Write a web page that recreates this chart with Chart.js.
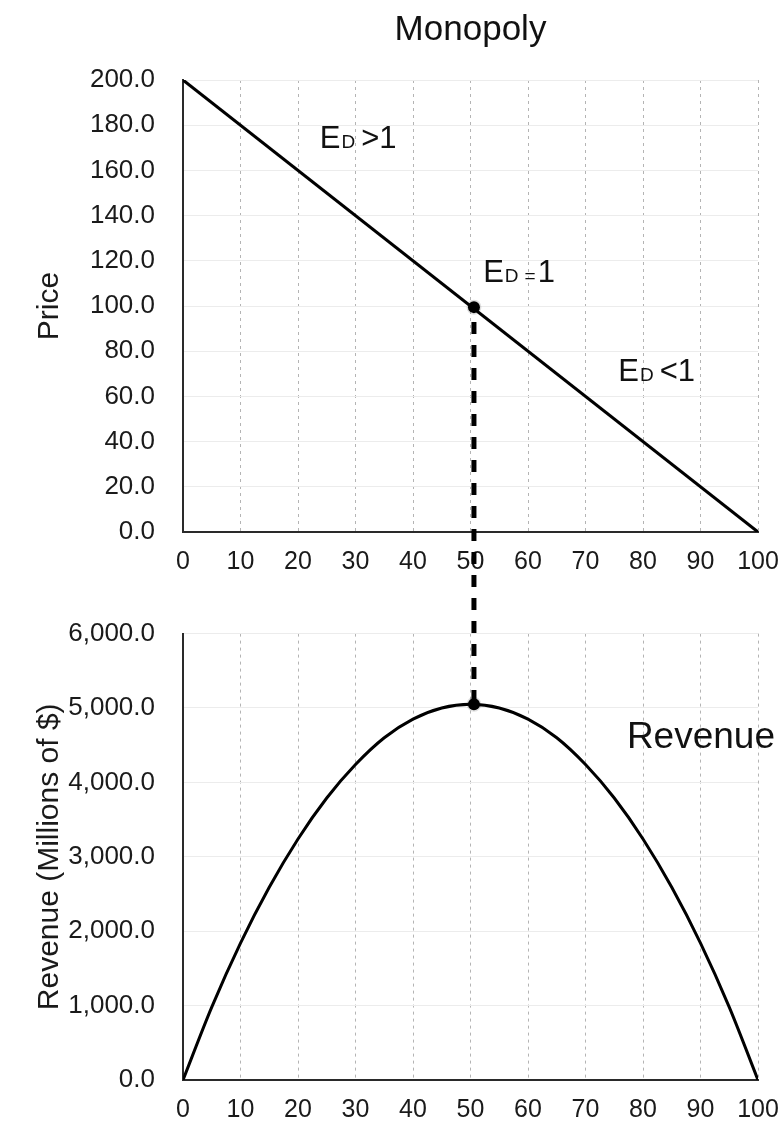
<!DOCTYPE html>
<html>
<head>
<meta charset="utf-8">
<script src="https://cdn.jsdelivr.net/npm/chart.js@4.4.1/dist/chart.umd.min.js"></script>
<style>
    html, body { margin: 0; padding: 0; background: #fff; }
    #wrap { position: relative; width: 784px; height: 1124px; }
    canvas { position: absolute; left: 0; }
    #priceChart { top: 0; }
    #revenueChart { top: 590px; }
</style>
</head>
<body>
<div id="wrap">
    <canvas id="priceChart" width="784" height="590"></canvas>
    <canvas id="revenueChart" width="784" height="534"></canvas>
</div>
<script>
// data
const demandQty = [0, 100];
const demandPrice = [200, 0];

const revenueQty = [0, 5, 10, 15, 20, 25, 30, 35, 40, 45, 50, 55, 60, 65, 70, 75, 80, 85, 90, 95, 100];
const revenueValues = [0, 980, 1840, 2590, 3240, 3790, 4240, 4600, 4850, 5000, 5050, 5000, 4850, 4600, 4240, 3790, 3240, 2590, 1840, 980, 0];

const unitElasticQty = [50.6];
const unitElasticPrice = [99.5];
const peakRevenue = [5050];

const quantityRange = [0, 100, 10];
const priceRange = [0, 200, 20];
const revenueRange = [0, 6000, 1000];

const chartTitle = "Monopoly";
const priceTitle = "Price";
const revenueTitle = "Revenue (Millions of $)";
const revenueLabel = "Revenue";

const FONT = "'Liberation Sans', Arial, Helvetica, sans-serif";
const TOP_CANVAS_H = 590;
const DASH = [12, 11];

function fmtOne(v) {
    return Number(v).toLocaleString("en-US", { minimumFractionDigits: 1, maximumFractionDigits: 1 });
}

function xScale(axisH, pad) {
    return {
        type: "linear",
        min: quantityRange[0],
        max: quantityRange[1],
        afterFit: (s) => {
            s.height = axisH;
            s.paddingLeft = 0;
            s.paddingRight = 0;
        },
        ticks: {
            stepSize: quantityRange[2],
            padding: pad,
            color: "#1a1a1a",
            font: { family: FONT, size: 25 },
            maxRotation: 0,
            callback: (v) => String(v),
        },
        grid: { color: "#b4b4b4", lineWidth: 1, drawTicks: false },
        border: { display: true, color: "#2a2a2a", width: 2, dash: [3, 4] },
    };
}

function yScale(range, title) {
    return {
        type: "linear",
        min: range[0],
        max: range[1],
        afterFit: (s) => { s.width = 183; },
        ticks: {
            stepSize: range[2],
            padding: 28,
            color: "#1a1a1a",
            font: { family: FONT, size: 26 },
            callback: (v) => fmtOne(v),
        },
        grid: { color: "#ececec", lineWidth: 1, drawTicks: false },
        border: { display: true, color: "#2a2a2a", width: 2 },
        title: {
            display: true,
            text: title,
            color: "#1a1a1a",
            font: { family: FONT, size: 30 },
            padding: { top: 32, bottom: 0 },
        },
    };
}

// connector from the unit-elastic point down to the revenue peak
function connectorPlugin(getStart, getEnd, absTop) {
    return {
        id: "connector",
        beforeDatasetsDraw(chart) {
            const ctx = chart.ctx;
            const s = getStart(chart);
            const e = getEnd(chart);
            ctx.save();
            ctx.strokeStyle = "#000";
            ctx.lineWidth = 5;
            ctx.setLineDash(DASH);
            ctx.lineDashOffset = s.y + absTop;
            ctx.beginPath();
            ctx.moveTo(s.x, s.y);
            ctx.lineTo(e.x, e.y);
            ctx.stroke();
            ctx.restore();
        },
    };
}

function drawElasticity(ctx, x, y, sign) {
    ctx.save();
    ctx.fillStyle = "#111";
    ctx.textAlign = "left";
    ctx.textBaseline = "alphabetic";
    ctx.font = "31px " + FONT;
    ctx.fillText("E", x, y);
    x += ctx.measureText("E").width + 1;
    ctx.font = "19px " + FONT;
    ctx.fillText("D", x, y);
    x += ctx.measureText("D").width + 6;
    if (sign === "=") {
        ctx.fillText("=", x, y);
        x += ctx.measureText("=").width + 2;
        ctx.font = "31px " + FONT;
        ctx.fillText("1", x, y);
    } else {
        ctx.font = "31px " + FONT;
        ctx.fillText(sign + "1", x, y);
    }
    ctx.restore();
}

const elasticityLabels = [
    { q: 23.8, p: 169.9, sign: ">" },
    { q: 52.2, p: 110.6, sign: "=" },
    { q: 75.7, p: 66.8, sign: "<" },
];

const priceAnnotations = {
    id: "priceAnnotations",
    afterDraw(chart) {
        const { x, y } = chart.scales;
        elasticityLabels.forEach((l) => {
            drawElasticity(chart.ctx, x.getPixelForValue(l.q), y.getPixelForValue(l.p), l.sign);
        });
    },
};

const revenueAnnotation = {
    id: "revenueAnnotation",
    afterDraw(chart) {
        const { x, y } = chart.scales;
        const ctx = chart.ctx;
        ctx.save();
        ctx.fillStyle = "#111";
        ctx.font = "37px " + FONT;
        ctx.textAlign = "left";
        ctx.textBaseline = "alphabetic";
        ctx.fillText(revenueLabel, x.getPixelForValue(77.2), y.getPixelForValue(4464));
        ctx.restore();
    },
};

document.addEventListener("DOMContentLoaded", () => {
    Chart.defaults.font.family = FONT;

    const priceCanvas = document.getElementById("priceChart");
    const revenueCanvas = document.getElementById("revenueChart");

    new Chart(priceCanvas, {
        type: "scatter",
        data: {
            datasets: [
                {
                    data: unitElasticQty.map((q, i) => ({ x: q, y: unitElasticPrice[i] })),
                    backgroundColor: "#000",
                    borderColor: "rgba(0,0,0,0.12)",
                    borderWidth: 3,
                    pointRadius: 6,
                    showLine: false,
                },
                {
                    data: demandQty.map((q, i) => ({ x: q, y: demandPrice[i] })),
                    borderColor: "#000",
                    borderWidth: 3,
                    pointRadius: 0,
                    showLine: true,
                    tension: 0,
                },
            ],
        },
        options: {
            responsive: false,
            animation: false,
            layout: { padding: { top: 0, right: 26, bottom: 0, left: 0 } },
            plugins: {
                legend: { display: false },
                tooltip: { enabled: false },
                title: {
                    display: true,
                    text: chartTitle,
                    fullSize: false,
                    color: "#111",
                    font: { family: FONT, size: 35, weight: "normal", lineHeight: 1.2 },
                    padding: { top: 9, bottom: 29 },
                },
            },
            scales: {
                x: xScale(TOP_CANVAS_H - 532, 15),
                y: yScale(priceRange, priceTitle),
            },
        },
        plugins: [
            connectorPlugin(
                (c) => ({ x: c.scales.x.getPixelForValue(unitElasticQty[0]), y: c.scales.y.getPixelForValue(unitElasticPrice[0]) }),
                (c) => ({ x: c.scales.x.getPixelForValue(unitElasticQty[0]), y: c.height }),
                0
            ),
            priceAnnotations,
        ],
    });

    new Chart(revenueCanvas, {
        type: "scatter",
        data: {
            datasets: [
                {
                    data: unitElasticQty.map((q, i) => ({ x: q, y: peakRevenue[i] })),
                    backgroundColor: "#000",
                    borderColor: "rgba(0,0,0,0.12)",
                    borderWidth: 3,
                    pointRadius: 6,
                    showLine: false,
                },
                {
                    data: revenueQty.map((q, i) => ({ x: q, y: revenueValues[i] })),
                    borderColor: "#000",
                    borderWidth: 3,
                    pointRadius: 0,
                    showLine: true,
                    cubicInterpolationMode: "monotone",
                },
            ],
        },
        options: {
            responsive: false,
            animation: false,
            layout: { padding: { top: 37, right: 26, bottom: 0, left: 0 } },
            plugins: {
                legend: { display: false },
                tooltip: { enabled: false },
            },
            scales: {
                x: xScale(534 - 490, 15),
                y: yScale(revenueRange, revenueTitle),
            },
        },
        plugins: [
            connectorPlugin(
                (c) => ({ x: c.scales.x.getPixelForValue(unitElasticQty[0]), y: 0 }),
                (c) => ({ x: c.scales.x.getPixelForValue(unitElasticQty[0]), y: c.scales.y.getPixelForValue(peakRevenue[0]) }),
                TOP_CANVAS_H
            ),
            revenueAnnotation,
        ],
    });
});
</script>
</body>
</html>
